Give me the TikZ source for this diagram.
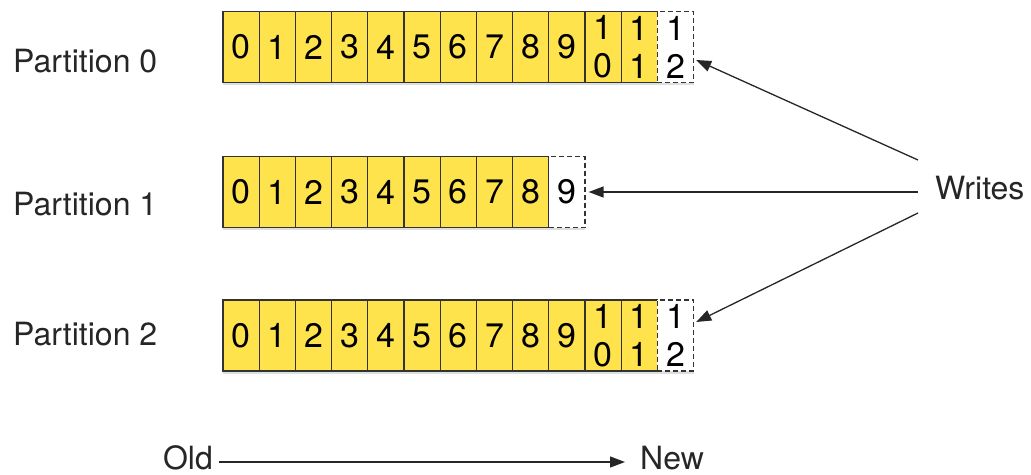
\documentclass[tikz,border=0pt]{standalone}
\usepackage{fontspec}
\setmainfont{TeX Gyre Heros}
\usetikzlibrary{arrows.meta,shadows}
\definecolor{logyellow}{HTML}{FFE34D}

\tikzset{
  cell/.style={rectangle, draw=black!80, line width=1.2pt, fill=logyellow,
    minimum width=36.2pt, minimum height=71pt, inner sep=0pt, align=center,
    font=\fontsize{34}{38}\selectfont,
    drop shadow={shadow xshift=0pt, shadow yshift=-2.5pt, opacity=0.25}},
  newcell/.style={cell, fill=white, dash pattern=on 5pt off 3pt},
  tag/.style={font=\fontsize{32}{38}\selectfont, inner sep=0pt,
    text height=23pt, text depth=9pt, text=black!85},
  arr/.style={draw=black!85, line width=1.3pt, -{Triangle[length=15pt,width=11pt]}}
}

\begin{document}
\begin{tikzpicture}[x=1pt, y=-1pt]
  \useasboundingbox (0,0) rectangle (1031,474);

  % Partition labels
  \node[tag, anchor=base west] (part0) at (13,72) {Partition 0};
  \node[tag, anchor=base west] (part1) at (13,215) {Partition 1};
  \node[tag, anchor=base west] (part2) at (13,345) {Partition 2};

  % Logs
  \foreach \i/\lbl in {0/0,1/1,2/2,3/3,4/4,5/5,6/6,7/7,8/8,9/9,10/{1\\0},11/{1\\1}}
    \node[cell] (p0c\i) at ({223+36.2*(\i+0.5)},47) {\lbl};
  \node[newcell] (p0c12) at ({223+36.2*12.5},47) {1\\2};

  \foreach \i in {0,...,8}
    \node[cell] (p1c\i) at ({223+36.2*(\i+0.5)},192) {\i};
  \node[newcell] (p1c9) at ({223+36.2*9.5},192) {9};

  \foreach \i/\lbl in {0/0,1/1,2/2,3/3,4/4,5/5,6/6,7/7,8/8,9/9,10/{1\\0},11/{1\\1}}
    \node[cell] (p2c\i) at ({223+36.2*(\i+0.5)},335.5) {\lbl};
  \node[newcell] (p2c12) at ({223+36.2*12.5},335.5) {1\\2};

  % Writes
  \node[tag, anchor=base west] (writes) at (935,199) {Writes};
  \draw[arr] ([xshift=-17pt,yshift=32pt]writes.west) -- ([xshift=2pt,yshift=-13pt]p0c12.east);
  \draw[arr] ([xshift=-17pt]writes.west) -- ([xshift=3pt]p1c9.east);
  \draw[arr] ([xshift=-17pt,yshift=-21pt]writes.west) -- ([xshift=2pt,yshift=13.5pt]p2c12.east);

  % Old -> New
  \node[tag, text depth=2pt, anchor=base east] (old) at (213,469) {Old};
  \node[tag, text depth=2pt, anchor=base west] (new) at (640,469) {New};
  \draw[arr] ([xshift=6pt,yshift=-3.5pt]old.east) -- ([xshift=-15pt,yshift=-3.5pt]new.west);
\end{tikzpicture}
\end{document}
